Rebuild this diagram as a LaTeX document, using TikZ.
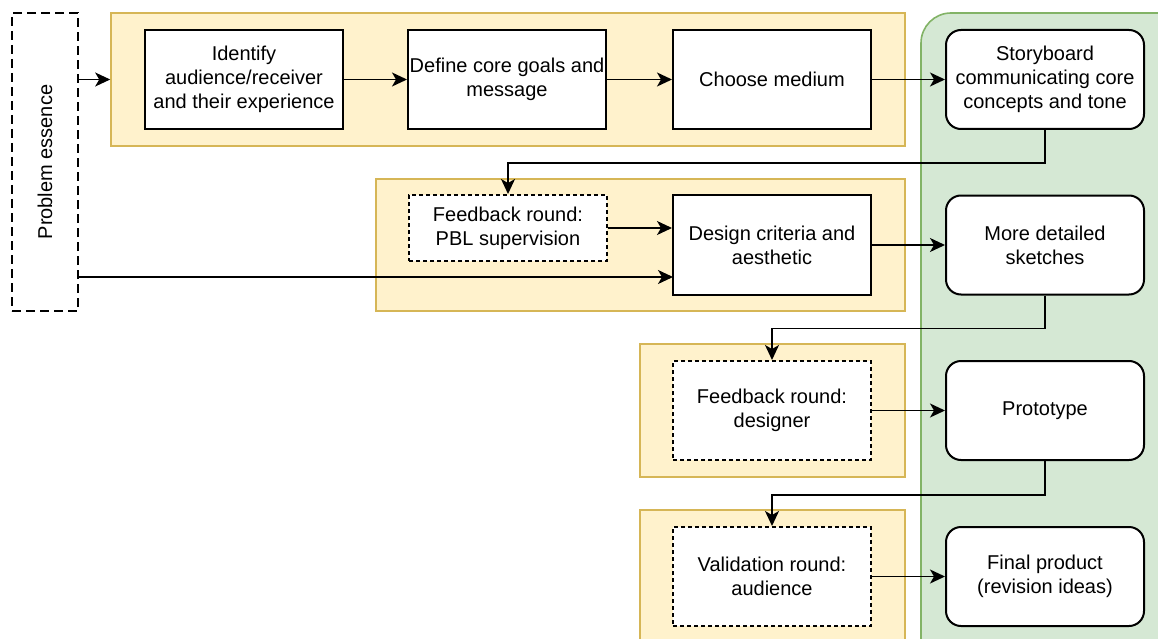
\documentclass[tikz,border=0pt]{standalone}
\usepackage{fontspec}
\setmainfont{Liberation Sans}
\usetikzlibrary{arrows.meta}
\definecolor{groupfill}{HTML}{FFF2CC}
\definecolor{groupline}{HTML}{D6B656}
\definecolor{lanefill}{HTML}{D5E8D4}
\definecolor{laneline}{HTML}{82B366}
\tikzset{
  every node/.style={font=\fontsize{20}{24}\selectfont, align=center, inner sep=0pt},
  group/.style={draw=groupline, fill=groupfill, line width=1.6, minimum width=#1, minimum height=133},
  stepbox/.style={draw=black, fill=white, line width=2, minimum width=198, minimum height=#1},
  stepbox/.default=99,
  roundbox/.style={stepbox, rounded corners=15},
  fbbox/.style={stepbox=#1, dash pattern=on 4 off 3},
  fbbox/.default=99,
  flow/.style={line width=1.5, -{Stealth[length=15,width=14,inset=4]}},
}
\begin{document}
\begin{tikzpicture}[x=1pt, y=-1pt]
\useasboundingbox (0,0) rectangle (1158,639);
\clip (0,0) rectangle (1158,639);

% product lane
\draw[draw=laneline, fill=lanefill, line width=1.6, rounded corners=30]
  (921,13) rectangle (1190,670);

% grouping panels
\node[group=794] (g1) at (508,79.5) {};
\node[group=529, minimum height=132] (g2) at (640.5,245) {};
\node[group=265] (g3) at (772.5,410.5) {};
\node[group=265] (g4) at (772.5,576.5) {};

% problem essence
\node[draw=black, fill=white, line width=2, dash pattern=on 9 off 5,
      minimum width=66, minimum height=298] (pe) at (45,162) {};
\node[rotate=90] at (pe.center) {Problem essence};

% first row
\node[stepbox] (aud) at (244,79.5) {Identify\\audience/receiver\\and their experience};
\node[stepbox] (goal) at (507,79.5) {Define core goals and\\message};
\node[stepbox] (med) at (772,79.5) {Choose medium};

% feedback rounds and steps
\node[fbbox=66] (pbl) at (508,228) {Feedback round:\\PBL supervision};
\node[stepbox=100] (crit) at (772,245) {Design criteria and\\aesthetic};
\node[fbbox] (dsg) at (772,410.5) {Feedback round:\\designer};
\node[fbbox] (val) at (772,576.5) {Validation round:\\audience};

% products
\node[roundbox] (sb) at (1045,79.5) {Storyboard\\communicating core\\concepts and tone};
\node[roundbox=100] (sk) at (1045,245) {More detailed\\sketches};
\node[roundbox] (pt) at (1045,410.5) {Prototype};
\node[roundbox] (fin) at (1045,576.5) {Final product\\(revision ideas)};

% connectors
\coordinate (critin) at (673,277);
\draw[flow] (pe.east |- g1.west) -- (g1.west);
\draw[flow] (pe.east |- critin) -- (critin);
\draw[flow] (aud) -- (goal);
\draw[flow] (goal) -- (med);
\draw[flow] (med) -- (sb);
\draw[flow] (sb.south) -- ++(0,33) -| (pbl.north);
\draw[flow] (pbl.east) -- (pbl.east -| crit.west);
\draw[flow] (crit) -- (sk);
\draw[flow] (sk.south) -- ++(0,33) -| (dsg.north);
\draw[flow] (dsg) -- (pt);
\draw[flow] (pt.south) -- ++(0,34) -| (val.north);
\draw[flow] (val) -- (fin);
\end{tikzpicture}
\end{document}
